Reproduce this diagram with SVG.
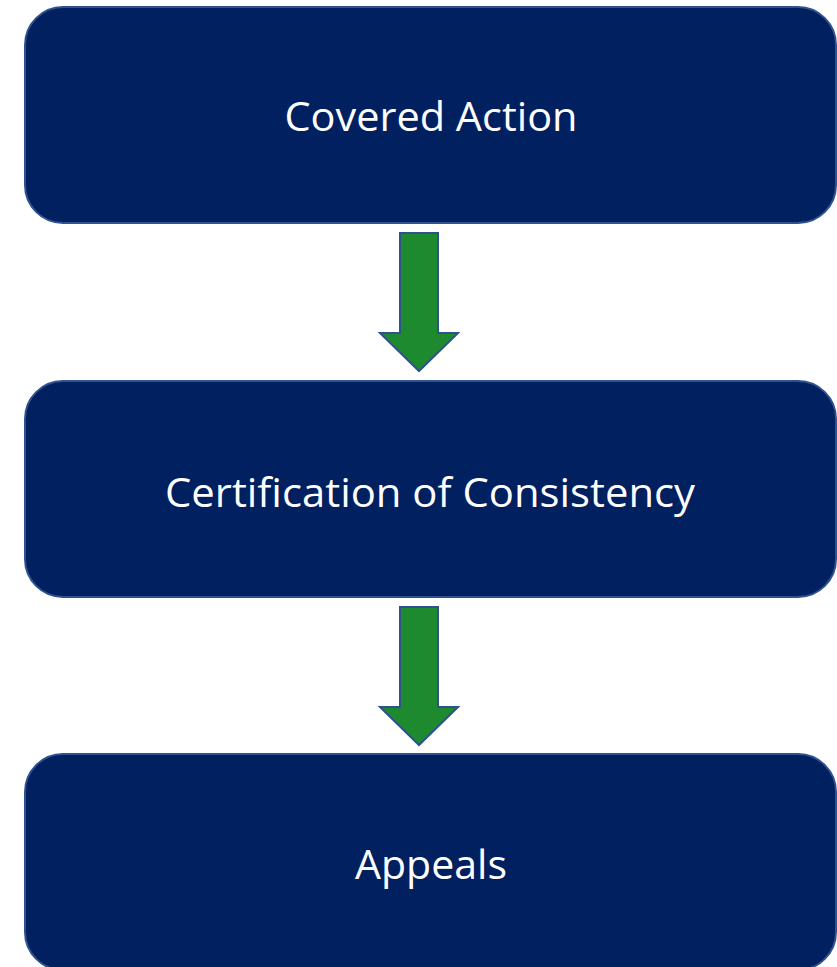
<svg xmlns="http://www.w3.org/2000/svg" width="837" height="967" viewBox="0 0 837 967">
<style>
.box{fill:#002060;stroke:#2F528F;stroke-width:2}
.lbl{font-family:"Open Sans","Liberation Sans",sans-serif;font-size:41px;fill:#FFFFFF;text-anchor:middle}
.arr{fill:#1E8A2F;stroke:#2F528F;stroke-width:2;stroke-linejoin:miter}
</style>
<rect width="837" height="967" fill="#FFFFFF"/>
<g id="node-covered-action">
<rect class="box" x="25" y="7" width="811" height="216" rx="38" ry="38"/>
<text class="lbl" x="431" y="131" textLength="293" lengthAdjust="spacingAndGlyphs">Covered Action</text>
</g>
<g id="node-certification">
<rect class="box" x="25" y="381" width="811" height="216" rx="38" ry="38"/>
<text class="lbl" x="430" y="507" textLength="530" lengthAdjust="spacingAndGlyphs">Certification of Consistency</text>
</g>
<g id="node-appeals">
<rect class="box" x="25" y="754" width="811" height="216" rx="38" ry="38"/>
<text class="lbl" x="431" y="879" textLength="152" lengthAdjust="spacingAndGlyphs">Appeals</text>
</g>
<g id="connectors">
<polygon class="arr" points="400,233 438,233 438,333 458,333 419,371 380,333 400,333"/>
<polygon class="arr" points="400,607 438,607 438,707 458,707 419,745 380,707 400,707"/>
</g>
</svg>
